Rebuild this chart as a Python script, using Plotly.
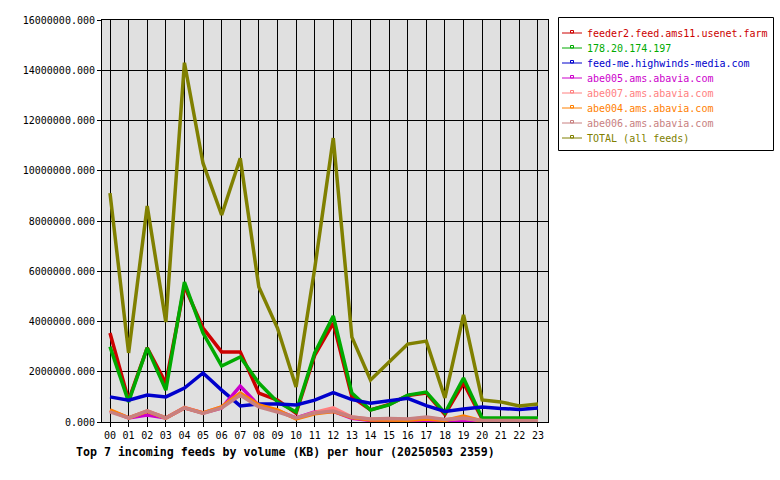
import plotly.graph_objects as go

hours = ["00","01","02","03","04","05","06","07","08","09","10","11",
         "12","13","14","15","16","17","18","19","20","21","22","23"]

names = ["feeder2.feed.ams11.usenet.farm", "178.20.174.197", "feed-me.highwinds-media.com",
         "abe005.ams.abavia.com", "abe007.ams.abavia.com", "abe004.ams.abavia.com",
         "abe006.ams.abavia.com", "TOTAL (all feeds)"]
colors = ["#cc0000", "#00aa00", "#0000cc", "#cc00cc", "#ff8080", "#ff8000", "#c88080", "#808000"]

feeder2 = [3540000, 870000, 2950000, 1550000, 5400000, 3740000, 2790000, 2790000, 1150000, 870000, 350000, 2650000,
           3940000, 1000000, 480000, 700000, 1050000, 1150000, 300000, 1550000, 120000, 110000, 110000, 110000]
ip178 = [3000000, 800000, 2950000, 1270000, 5570000, 3540000, 2230000, 2590000, 1550000, 800000, 400000, 2750000,
         4220000, 1150000, 480000, 680000, 1070000, 1190000, 360000, 1750000, 160000, 160000, 160000, 160000]
highwinds = [1000000, 870000, 1070000, 1000000, 1350000, 1950000, 1270000, 640000, 720000, 720000, 680000, 870000,
             1170000, 890000, 750000, 840000, 940000, 650000, 420000, 520000, 600000, 540000, 500000, 560000]
abe005 = [450000, 160000, 280000, 160000, 560000, 360000, 560000, 1430000, 650000, 450000, 160000, 400000,
          420000, 150000, 60000, 40000, 40000, 60000, 30000, 60000, 30000, 20000, 20000, 20000]
abe007 = [450000, 160000, 440000, 160000, 580000, 360000, 600000, 1150000, 640000, 450000, 140000, 380000,
          560000, 200000, 110000, 130000, 100000, 170000, 90000, 150000, 50000, 40000, 40000, 40000]
abe004 = [480000, 160000, 420000, 160000, 560000, 360000, 600000, 1150000, 680000, 480000, 120000, 330000,
          420000, 180000, 80000, 90000, 70000, 120000, 60000, 240000, 40000, 30000, 30000, 30000]
abe006 = [400000, 160000, 440000, 160000, 560000, 340000, 560000, 1070000, 600000, 400000, 160000, 360000,
          440000, 200000, 120000, 140000, 120000, 200000, 100000, 160000, 60000, 50000, 50000, 50000]
total = [9110000, 2750000, 8600000, 3980000, 14300000, 10300000, 8240000, 10500000, 5370000, 3740000, 1390000, 6100000,
         11300000, 3380000, 1670000, 2390000, 3100000, 3220000, 960000, 4260000, 880000, 800000, 640000, 720000]

series = [feeder2, ip178, highwinds, abe005, abe007, abe004, abe006, total]
y_ticks = [0, 2000000, 4000000, 6000000, 8000000, 10000000, 12000000, 14000000, 16000000]
title_text = "Top 7 incoming feeds by volume (KB) per hour (20250503 2359)"

W, H = 780, 480
L, R, T, B = 102, 548, 20, 422
PW, PH = R - L, B - T

def px(x):
    return (x - L) / PW

def py(y):
    return (B - y) / PH

fig = go.Figure()
for nm, col, vals in zip(names, colors, series):
    fig.add_trace(go.Scatter(x=list(range(len(hours))), y=vals, mode="lines", name=nm,
                             line=dict(color=col, width=3.5), showlegend=False))

mono = "DejaVu Sans Mono"
fig.update_layout(
    width=W, height=H,
    margin=dict(l=L, r=W - R, t=T, b=H - B),
    paper_bgcolor="white", plot_bgcolor="#e0e0e0",
    font=dict(family=mono, size=10, color="black"),
    showlegend=False,
)
fig.update_xaxes(range=[-0.43, 23.54], tickmode="array", tickvals=list(range(len(hours))), ticktext=hours,
                 showgrid=True, gridcolor="black", gridwidth=1, showline=True, linecolor="black", linewidth=1,
                 mirror=True, ticks="outside", ticklen=4, tickcolor="black", zeroline=False,
                 tickfont=dict(family=mono, size=10))
fig.update_yaxes(range=[0, 16000000], tickmode="array", tickvals=y_ticks,
                 ticktext=[f"{v:.3f}" for v in y_ticks],
                 showgrid=True, gridcolor="black", gridwidth=1, showline=True, linecolor="black", linewidth=1,
                 mirror=True, ticks="outside", ticklen=4, tickcolor="black", zeroline=False,
                 tickfont=dict(family=mono, size=10))

# title
fig.add_annotation(x=px(74), y=py(452), xref="paper", yref="paper", text="<b>" + title_text + "</b>",
                   showarrow=False, xanchor="left", yanchor="middle",
                   font=dict(family=mono, size=11.6, color="black"))

# manual legend
shapes = [dict(type="rect", xref="paper", yref="paper", x0=px(558.5), x1=px(773.5), y0=py(150.5), y1=py(17.5),
               line=dict(color="black", width=1), fillcolor="white", layer="above")]
for i, (nm, col) in enumerate(zip(names, colors)):
    yy = 33 + 15 * i
    shapes.append(dict(type="line", xref="paper", yref="paper", x0=px(562), x1=px(582), y0=py(yy), y1=py(yy),
                       line=dict(color=col, width=1), layer="above"))
    shapes.append(dict(type="rect", xref="paper", yref="paper", x0=px(570.5), x1=px(573.5), y0=py(yy), y1=py(yy - 2.5),
                       line=dict(color=col, width=1), layer="above"))
    fig.add_annotation(x=px(585), y=py(yy), xref="paper", yref="paper", text=nm, showarrow=False,
                       xanchor="left", yanchor="middle", font=dict(family=mono, size=10, color=col))
fig.update_layout(shapes=shapes)

fig.write_html("out.html")
